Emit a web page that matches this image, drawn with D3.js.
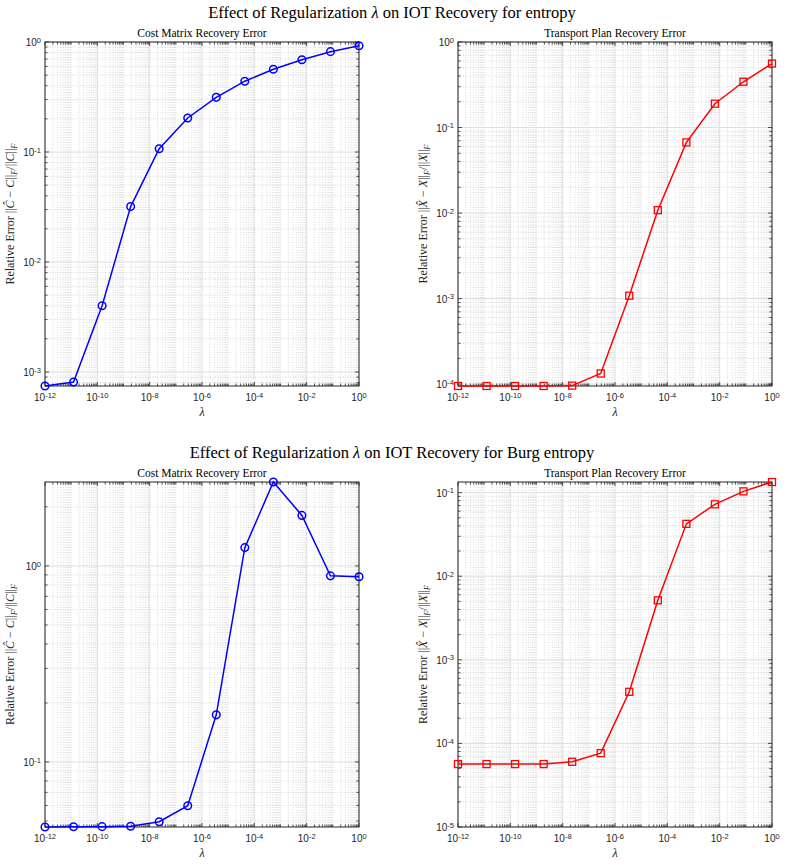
<!DOCTYPE html>
<html>
<head>
<meta charset="utf-8">
<script src="https://cdn.jsdelivr.net/npm/d3@7"></script>
<style>
  body { margin: 0; background: #fff; }
  svg { display: block; }
</style>
</head>
<body>
<div id="plot"></div>
<script>
// regularization values (12 points, log spaced 1e-12 .. 1)
var lambdas = [1e-12, 1.233e-11, 1.520e-10, 1.874e-9, 2.310e-8, 2.848e-7,
               3.511e-6, 4.329e-5, 5.337e-4, 6.579e-3, 8.111e-2, 1];

var entropyCost = [7.46e-4, 8.1e-4, 4.0e-3, 0.0319, 0.107, 0.204, 0.314, 0.44, 0.565, 0.69, 0.817, 0.925];
var entropyPlan = [9.5e-5, 9.5e-5, 9.5e-5, 9.5e-5, 9.6e-5, 1.33e-4, 1.08e-3, 0.0108, 0.067, 0.19, 0.343, 0.56];
var burgCost = [0.0466, 0.0467, 0.0468, 0.0470, 0.0496, 0.0598, 0.174, 1.24, 2.68, 1.81, 0.89, 0.88];
var burgPlan = [5.66e-5, 5.66e-5, 5.66e-5, 5.66e-5, 6.03e-5, 7.65e-5, 4.14e-4, 5.15e-3, 0.0423, 0.0725, 0.1035, 0.134];

var xTickExps = [-12, -10, -8, -6, -4, -2, 0];

var suptitles = ["Effect of Regularization ", " on IOT Recovery for "];
var methods = ["entropy", "Burg entropy"];
var subTitles = ["Cost Matrix Recovery Error", "Transport Plan Recovery Error"];

var W = 785, H = 864;
var serif = "'Liberation Serif','DejaVu Serif',serif";
var sans = "'Liberation Sans', Arial, sans-serif";
var axCol = "#262626";

var svg = d3.select("#plot").append("svg")
  .attr("width", W).attr("height", H);

var panels = [
  { x0: 45, x1: 359, y0: 42, y1: 386, yDom: [7.46e-4, 1], data: entropyCost, col: "#0000ff", marker: "circle", which: "C" },
  { x0: 458, x1: 772, y0: 42, y1: 386, yDom: [9.5e-5, 1], data: entropyPlan, col: "#ff0000", marker: "square", which: "X" },
  { x0: 45, x1: 359, y0: 482, y1: 827, yDom: [0.0466, 2.68], data: burgCost, col: "#0000ff", marker: "circle", which: "C" },
  { x0: 458, x1: 772, y0: 482, y1: 827, yDom: [1e-5, 0.134], data: burgPlan, col: "#ff0000", marker: "square", which: "X" }
];

// figure titles
[0, 1].forEach(function (r) {
  var t = svg.append("text")
    .attr("x", 392).attr("y", r == 0 ? 18 : 458)
    .attr("text-anchor", "middle")
    .style("font-family", serif).style("font-size", "16.5px").style("fill", "#000");
  t.append("tspan").text(suptitles[0]);
  t.append("tspan").style("font-style", "italic").text("λ");
  t.append("tspan").text(suptitles[1] + methods[r]);
});

function logTicks(dom) {
  var lo = Math.floor(Math.log10(dom[0])), hi = Math.ceil(Math.log10(dom[1]));
  var major = [], minor = [];
  for (var e = lo; e <= hi; e++) {
    for (var k = 1; k <= 9; k++) {
      var v = k * Math.pow(10, e);
      if (v < dom[0] * 0.9999 || v > dom[1] * 1.0001) continue;
      if (k == 1) major.push(e); else minor.push(v);
    }
  }
  return { major: major, minor: minor };
}

function powLabel(sel, e) {
  sel.append("tspan").text("10");
  sel.append("tspan").attr("dy", "-0.45em").style("font-size", "7.5px").text(e);
}

panels.forEach(function (p, pi) {
  var x = d3.scaleLog().domain([1e-12, 1]).range([p.x0, p.x1]);
  var y = d3.scaleLog().domain(p.yDom).range([p.y1, p.y0]);
  var g = svg.append("g");

  var xt = logTicks([1e-12, 1]);
  var yt = logTicks(p.yDom);
  var xMinor = xt.minor.concat(xt.major.filter(function (e) { return e % 2 != 0; }).map(function (e) { return Math.pow(10, e); }));
  var xMajor = xTickExps;

  // minor grid
  g.selectAll("line.xmg").data(xMinor).enter().append("line")
    .attr("x1", function (d) { return x(d); }).attr("x2", function (d) { return x(d); })
    .attr("y1", p.y0).attr("y2", p.y1)
    .style("stroke", "#cccccc").style("stroke-width", 0.7).style("stroke-dasharray", "1,1.5");
  g.selectAll("line.ymg").data(yt.minor).enter().append("line")
    .attr("y1", function (d) { return y(d); }).attr("y2", function (d) { return y(d); })
    .attr("x1", p.x0).attr("x2", p.x1)
    .style("stroke", "#cccccc").style("stroke-width", 0.7).style("stroke-dasharray", "1,1.5");

  // major grid
  g.selectAll("line.xg").data(xMajor).enter().append("line")
    .attr("x1", function (d) { return x(Math.pow(10, d)); }).attr("x2", function (d) { return x(Math.pow(10, d)); })
    .attr("y1", p.y0).attr("y2", p.y1)
    .style("stroke", "#dedede").style("stroke-width", 1);
  g.selectAll("line.yg").data(yt.major).enter().append("line")
    .attr("y1", function (d) { return y(Math.pow(10, d)); }).attr("y2", function (d) { return y(Math.pow(10, d)); })
    .attr("x1", p.x0).attr("x2", p.x1)
    .style("stroke", "#dedede").style("stroke-width", 1);

  // ticks inward on all four sides
  var tk = g.append("g").style("stroke", axCol).style("stroke-width", 0.8);
  xMinor.forEach(function (v) {
    tk.append("line").attr("x1", x(v)).attr("x2", x(v)).attr("y1", p.y1).attr("y2", p.y1 - 2.5);
    tk.append("line").attr("x1", x(v)).attr("x2", x(v)).attr("y1", p.y0).attr("y2", p.y0 + 2.5);
  });
  xMajor.forEach(function (e) {
    var v = x(Math.pow(10, e));
    tk.append("line").attr("x1", v).attr("x2", v).attr("y1", p.y1).attr("y2", p.y1 - 4);
    tk.append("line").attr("x1", v).attr("x2", v).attr("y1", p.y0).attr("y2", p.y0 + 4);
  });
  yt.minor.forEach(function (v) {
    tk.append("line").attr("y1", y(v)).attr("y2", y(v)).attr("x1", p.x0).attr("x2", p.x0 + 2.5);
    tk.append("line").attr("y1", y(v)).attr("y2", y(v)).attr("x1", p.x1).attr("x2", p.x1 - 2.5);
  });
  yt.major.forEach(function (e) {
    var v = y(Math.pow(10, e));
    tk.append("line").attr("y1", v).attr("y2", v).attr("x1", p.x0).attr("x2", p.x0 + 4);
    tk.append("line").attr("y1", v).attr("y2", v).attr("x1", p.x1).attr("x2", p.x1 - 4);
  });

  // box
  g.append("rect")
    .attr("x", p.x0).attr("y", p.y0).attr("width", p.x1 - p.x0).attr("height", p.y1 - p.y0)
    .style("fill", "none").style("stroke", axCol).style("stroke-width", 1);

  // tick labels
  xMajor.forEach(function (e) {
    var t = g.append("text").attr("x", x(Math.pow(10, e))).attr("y", p.y1 + 15)
      .attr("text-anchor", "middle")
      .style("font-family", sans).style("font-size", "10px").style("fill", axCol);
    powLabel(t, e);
  });
  yt.major.forEach(function (e) {
    var t = g.append("text").attr("x", p.x0 - 4).attr("y", y(Math.pow(10, e)) + 4)
      .attr("text-anchor", "end")
      .style("font-family", sans).style("font-size", "10px").style("fill", axCol);
    powLabel(t, e);
  });

  // titles and labels
  g.append("text").attr("x", (p.x0 + p.x1) / 2).attr("y", p.y0 - 5)
    .attr("text-anchor", "middle")
    .style("font-family", serif).style("font-size", "11.5px").style("fill", "#000")
    .text(subTitles[pi % 2]);

  g.append("text").attr("x", (p.x0 + p.x1) / 2).attr("y", p.y1 + 30)
    .attr("text-anchor", "middle")
    .style("font-family", serif).style("font-size", "12px").style("font-style", "italic").style("fill", axCol)
    .text("λ");

  var cy = (p.y0 + p.y1) / 2, cx = p.x0 - 31;
  var yl = g.append("text")
    .attr("transform", "translate(" + cx + "," + cy + ") rotate(-90)")
    .attr("text-anchor", "middle")
    .style("font-family", serif).style("font-size", "12px").style("fill", axCol);
  var hat = p.which == "C" ? "Ĉ" : "X\u0302";
  yl.append("tspan").text("Relative Error ||");
  yl.append("tspan").style("font-style", "italic").text(hat);
  yl.append("tspan").text(" − ");
  yl.append("tspan").style("font-style", "italic").text(p.which);
  yl.append("tspan").text("||");
  yl.append("tspan").attr("dy", 3).style("font-size", "8.5px").style("font-style", "italic").text("F");
  yl.append("tspan").attr("dy", -3).text("/||");
  yl.append("tspan").style("font-style", "italic").text(p.which);
  yl.append("tspan").text("||");
  yl.append("tspan").attr("dy", 3).style("font-size", "8.5px").style("font-style", "italic").text("F");

  // data
  var pts = lambdas.map(function (l, i) { return [l, p.data[i]]; });
  var line = d3.line().x(function (d) { return x(d[0]); }).y(function (d) { return y(d[1]); });
  g.append("path").datum(pts).attr("d", line)
    .style("fill", "none").style("stroke", p.col).style("stroke-width", 1.5);

  if (p.marker == "circle") {
    g.selectAll("circle.m").data(pts).enter().append("circle")
      .attr("cx", function (d) { return x(d[0]); }).attr("cy", function (d) { return y(d[1]); })
      .attr("r", 3.8)
      .style("fill", "none").style("stroke", p.col).style("stroke-width", 1.5);
  } else {
    g.selectAll("rect.m").data(pts).enter().append("rect")
      .attr("x", function (d) { return x(d[0]) - 3.5; }).attr("y", function (d) { return y(d[1]) - 3.5; })
      .attr("width", 7).attr("height", 7)
      .style("fill", "none").style("stroke", p.col).style("stroke-width", 1.3);
  }
});
</script>
</body>
</html>
